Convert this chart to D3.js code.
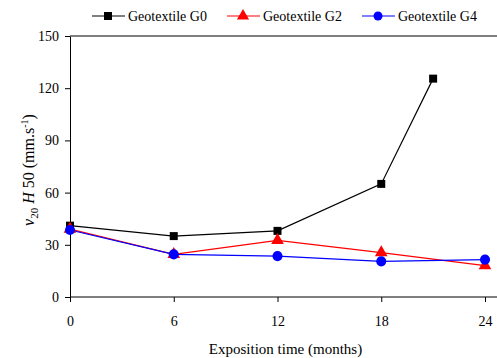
<!DOCTYPE html>
<html>
<head>
<meta charset="utf-8">
<script src="https://cdn.jsdelivr.net/npm/d3@7"></script>
<style>
  body { margin: 0; background: #fff; }
</style>
</head>
<body>
<div id="chart"></div>
<script>
// data
const monthsG0 = [0, 6, 12, 18, 21];
const valuesG0 = [41, 35, 38, 65, 125.5];
const monthsG2 = [0, 6, 12, 18, 24];
const valuesG2 = [39, 24.5, 32.5, 25.5, 18];
const monthsG4 = [0, 6, 12, 18, 24];
const valuesG4 = [38.5, 24.5, 23.5, 20.5, 21.5];
const xTicks = [0, 6, 12, 18, 24];
const yTicks = [0, 30, 60, 90, 120, 150];

const series = [
    { name: "Geotextile G0", x: monthsG0, y: valuesG0, color: "#000", shape: d3.symbolSquare },
    { name: "Geotextile G2", x: monthsG2, y: valuesG2, color: "#ff0000", shape: d3.symbolTriangle },
    { name: "Geotextile G4", x: monthsG4, y: valuesG4, color: "#0000ff", shape: d3.symbolCircle }
];

const W = 497, H = 358;
const plotLeft = 70, plotTop = 36, plotBottom = 297, axisRight = 497;
const serif = "'Liberation Serif', 'Times New Roman', serif";

const svg = d3.select("#chart").append("svg")
    .attr("width", W)
    .attr("height", H)
    .style("font-family", serif);

const x = d3.scaleLinear().domain([0, 24]).range([plotLeft, 485]);
const y = d3.scaleLinear().domain([0, 150]).range([plotBottom, plotTop]);

// top frame line, runs to the edge like the bottom axis
svg.append("line")
    .attr("x1", plotLeft).attr("x2", axisRight)
    .attr("y1", plotTop).attr("y2", plotTop)
    .attr("stroke", "#000").attr("stroke-width", 1);

const xAxis = svg.append("g")
    .attr("transform", `translate(0, ${plotBottom})`)
    .call(d3.axisBottom(x).tickValues(xTicks).tickSize(5).tickPadding(14));
xAxis.select(".domain").remove();
xAxis.append("line")
    .attr("x1", plotLeft).attr("x2", axisRight)
    .attr("stroke", "#000");

const yAxis = svg.append("g")
    .attr("transform", `translate(${plotLeft}, 0)`)
    .call(d3.axisLeft(y).tickValues(yTicks).tickSize(5).tickPadding(6).tickSizeOuter(0));

svg.selectAll("g").attr("font-family", null);
svg.selectAll(".tick text")
    .style("font-family", serif)
    .style("font-size", "14px")
    .attr("fill", "#000");
svg.selectAll(".domain, .tick line").attr("stroke", "#000");

// lines + markers
const line = d3.line().x(d => x(d[0])).y(d => y(d[1]));

series.forEach(s => {
    const pts = s.x.map((v, i) => [v, s.y[i]]);
    svg.append("path")
        .datum(pts)
        .attr("d", line)
        .attr("fill", "none")
        .attr("stroke", s.color)
        .attr("stroke-width", 1.2);
});

series.forEach(s => {
    const pts = s.x.map((v, i) => [v, s.y[i]]);
    const size = s.shape === d3.symbolTriangle ? 70 : (s.shape === d3.symbolSquare ? 64 : 80);
    svg.selectAll(null)
        .data(pts)
        .join("path")
        .attr("d", d3.symbol().type(s.shape).size(size))
        .attr("transform", d => `translate(${x(d[0])}, ${y(d[1])})`)
        .attr("fill", s.color);
});

// legend
const legendX = [92, 227, 362];
series.forEach((s, i) => {
    const g = svg.append("g").attr("transform", `translate(${legendX[i]}, 16)`);
    g.append("line").attr("x1", 0).attr("x2", 33).attr("stroke", s.color).attr("stroke-width", 1.2);
    g.append("path")
        .attr("d", d3.symbol().type(s.shape).size(64))
        .attr("transform", "translate(16, 0)")
        .attr("fill", s.color);
    g.append("text")
        .attr("x", 36).attr("y", 5)
        .style("font-family", serif)
        .style("font-size", "14px")
        .text(s.name);
});

// axis titles
svg.append("text")
    .attr("x", (plotLeft + 485) / 2 + 8).attr("y", 354)
    .attr("text-anchor", "middle")
    .style("font-family", serif)
    .style("font-size", "15px")
    .text("Exposition time (months)");

const yl = svg.append("text")
    .attr("transform", "translate(34, 170) rotate(-90)")
    .attr("text-anchor", "middle")
    .style("font-family", serif)
    .style("font-size", "16px");
yl.append("tspan").attr("font-style", "italic").text("v");
yl.append("tspan").attr("font-size", 11).attr("dy", 4).text("20");
yl.append("tspan").attr("dy", -4).attr("font-style", "italic").text(" H");
yl.append("tspan").text(" 50 (mm.s");
yl.append("tspan").attr("font-size", 10).attr("dy", -6).text("-1");
yl.append("tspan").attr("dy", 6).text(")");
</script>
</body>
</html>
